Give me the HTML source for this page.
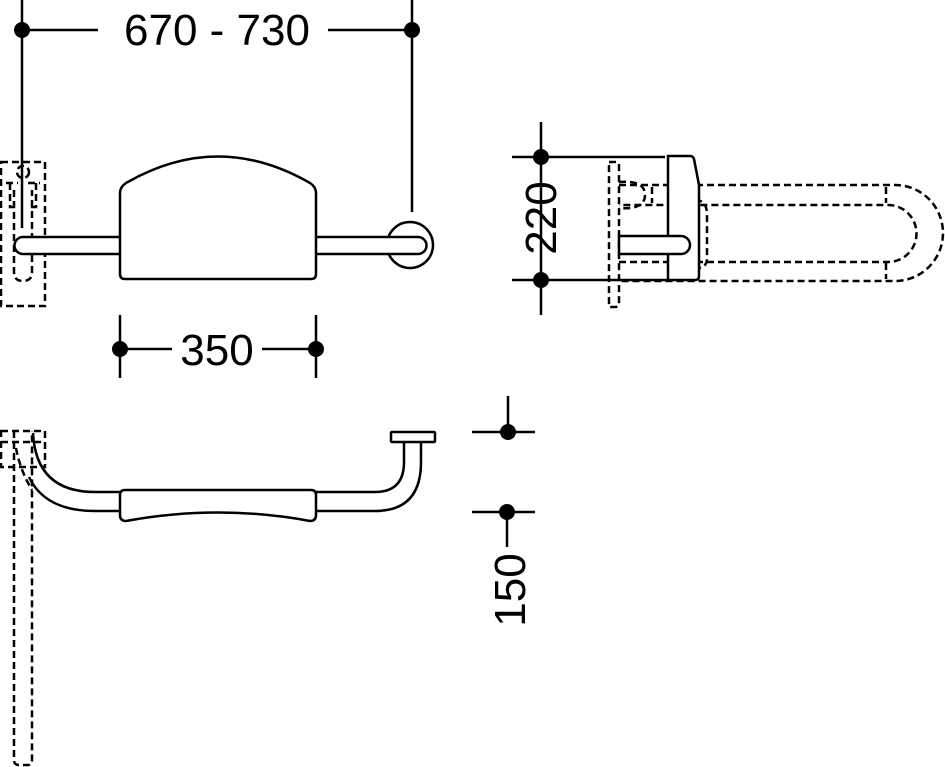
<!DOCTYPE html>
<html><head><style>html,body{margin:0;padding:0;background:#fff}svg{display:block}</style></head>
<body>
<svg width="945" height="767" viewBox="0 0 945 767" xmlns="http://www.w3.org/2000/svg" fill="none" stroke="#000" stroke-width="2.5">
<g font-family="Liberation Sans, Arial, sans-serif" fill="#000" stroke="none" font-size="44">
<text x="217" y="45" text-anchor="middle">670 - 730</text>
<text x="217" y="365" text-anchor="middle">350</text>
<text transform="translate(556,218) rotate(-90)" text-anchor="middle">220</text>
<text transform="translate(525,590) rotate(-90)" text-anchor="middle">150</text>
</g>
<!-- top dim -->
<line x1="22" y1="30" x2="98" y2="30"/><line x1="328" y1="30" x2="412" y2="30"/>
<line x1="22" y1="0" x2="22" y2="228"/><line x1="412" y1="0" x2="412" y2="212"/>
<g fill="#000" stroke="none">
<circle cx="22" cy="30" r="8"/><circle cx="412" cy="30" r="8"/>
<circle cx="120" cy="349" r="8"/><circle cx="316" cy="349" r="8"/>
<circle cx="541" cy="157" r="8"/><circle cx="541" cy="280" r="8"/>
<circle cx="508" cy="432" r="8"/><circle cx="507" cy="512" r="8"/>
</g>
<!-- 350 dim -->
<line x1="120" y1="315" x2="120" y2="378"/><line x1="316" y1="315" x2="316" y2="378"/>
<line x1="120" y1="349" x2="172" y2="349"/><line x1="262" y1="349" x2="316" y2="349"/>
<!-- 220 dim -->
<line x1="541" y1="122" x2="541" y2="315"/>
<line x1="512" y1="157" x2="665" y2="157"/><line x1="512" y1="280" x2="668" y2="280"/>
<!-- 150 dim -->
<line x1="508" y1="396" x2="508" y2="432"/><line x1="472" y1="432" x2="535" y2="432"/>
<line x1="472" y1="512" x2="535" y2="512"/><line x1="507" y1="512" x2="507" y2="547"/>
<!-- front view -->
<g stroke-dasharray="7,4">
<rect x="1" y="162" width="44" height="144"/>
<path d="M14 190 V272 Q14 281 23 281 Q32 281 32 272 V190"/>
<circle cx="23" cy="172" r="6"/>
<path d="M6 183 H18 M28 183 H40 M10 183 V207 H16 M36 183 V207 H30"/>
</g>
<circle cx="410" cy="245" r="23" fill="#fff"/>
<path d="M23 237 H418 A8.5 8.5 0 0 1 418 254 H23 A8.5 8.5 0 0 1 23 237 Z" fill="#fff"/>
<path d="M120 193 Q120 187 126 183 Q218 130 310 183 Q316 187 316 193 V274 Q316 279 311 279 H125 Q120 279 120 274 Z" fill="#fff"/>
<!-- side view -->
<g stroke-dasharray="7,4">
<path d="M609 162 H617 Q619 162 619 166 V303 Q619 307 615 307 H609 Z"/>
<path d="M619 185 H895 A48 48 0 0 1 895 281 H619"/>
<path d="M619 262 H888 A28.5 28.5 0 0 0 888 205 H619"/>
<path d="M619 182 Q645 180 645 195 Q645 210 619 208"/>
<path d="M652 187 V203 M886 187 V203 M886 263 V279 M695 200 Q707 200 707 215 V258 Q707 268 697 268 Q690 268 690 258 V215 Q690 200 695 200 M696 205 V262"/>
</g>
<path d="M668 280 V156 H690 Q693 156 694 159 L699 185 V276 Q699 280 695 280 Z" fill="#fff"/>
<path d="M619 236 H681 A9 9 0 0 1 681 254 H619 Z" fill="#fff"/>
<!-- bottom view -->
<g stroke-dasharray="7,4">
<rect x="1" y="431" width="44" height="36"/>
<path d="M1 442 H45 M14 431 V760 Q14 765 19 765 H28 Q32 765 32 760 V431"/>
<path d="M16 448 Q20 470 32 490"/>
</g>
<path d="M33 433 Q36 492 95 492 H375 Q404 492 404 462 V442 M421 442 V462 Q421 511 375 511 H95 Q45 511 29 477"/>
<rect x="391" y="432" width="44" height="10" rx="1" fill="#fff"/>
<path d="M120 495 Q120 490 125 490 H311 Q316 490 316 495 V515 Q316 521 310 521 Q218 504 126 521 Q120 521 120 515 Z" fill="#fff"/>
</svg>
</body></html>
